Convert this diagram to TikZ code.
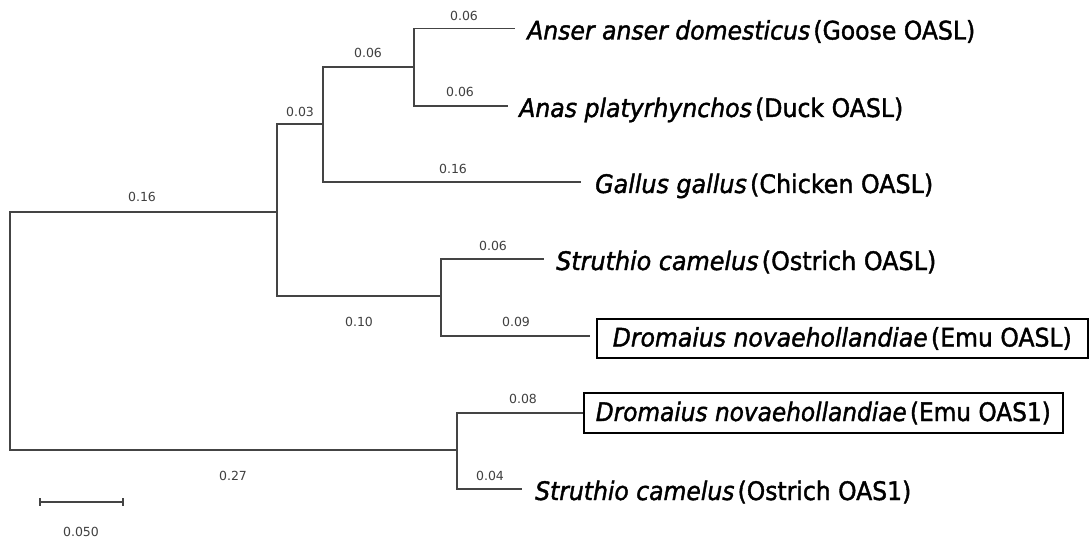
\documentclass[tikz,border=0pt]{standalone}
\usepackage{fontspec}
\usepackage{graphicx}
\setmainfont{Liberation Sans}
\newfontfamily\taxfont{DejaVu Sans Condensed}[FakeBold=1.5]
\newfontfamily\numfont{DejaVu Sans}
\definecolor{treegray}{HTML}{444444}
\definecolor{lblgray}{HTML}{404040}
\newcommand{\taxlabel}[3]{\resizebox{#1}{\height}{\textit{#2}\hspace{0.12em}(#3)}}
\tikzset{
  br/.style={draw=treegray, line width=1.4pt},
  bl/.style={font=\numfont\fontsize{12.5}{14}\selectfont, text=lblgray, inner sep=0pt},
  taxon/.style={anchor=base west, inner sep=0pt, font=\taxfont\fontsize{25.5}{28}\selectfont},
  boxed/.style={draw=black, line width=1.6pt, inner sep=0pt, anchor=west, align=center, font=\taxfont\fontsize{25.5}{28}\selectfont}
}
\begin{document}
\begin{tikzpicture}[x=1pt,y=-1pt]
\fill[white] (0,0) rectangle (1089,545);
\useasboundingbox (0,0) rectangle (1089,545);
% internal nodes
\coordinate (R) at (10,331);
\coordinate (A) at (277,212);
\coordinate (B) at (323,124);
\coordinate (C) at (414,67);
\coordinate (D) at (441,296);
\coordinate (E) at (457,450);
% leaf ends
\coordinate (l1) at (515,28.5);
\coordinate (l2) at (508,106);
\coordinate (l3) at (581,182);
\coordinate (l4) at (544,259);
\coordinate (l5) at (590,336);
\coordinate (l7) at (522,489);
% leaf labels
\node[taxon] (t1) at (527,39.5) {\taxlabel{448pt}{Anser anser domesticus}{Goose OASL}};
\node[taxon] (t2) at (519,117) {\taxlabel{384pt}{Anas platyrhynchos}{Duck OASL}};
\node[taxon] (t3) at (595,193) {\taxlabel{338pt}{Gallus gallus}{Chicken OASL}};
\node[taxon] (t4) at (556,270) {\taxlabel{380pt}{Struthio camelus}{Ostrich OASL}};
\node[boxed, minimum width=491pt, minimum height=39pt] (t5) at (596,338.5) {\taxlabel{459pt}{Dromaius novaehollandiae}{Emu OASL}};
\node[boxed, minimum width=479pt, minimum height=40pt] (t6) at (583,413) {\taxlabel{455pt}{Dromaius novaehollandiae}{Emu OAS1}};
\node[taxon] (t7) at (535,500) {\taxlabel{376pt}{Struthio camelus}{Ostrich OAS1}};
% branches
\draw[br] (R) |- (A);
\draw[br] (R) |- (E);
\draw[br] (A) |- (B);
\draw[br] (A) |- (D);
\draw[br] (B) |- (C);
\draw[br] (B) |- (l3);
\draw[br] (C) |- (l1);
\draw[br] (C) |- (l2);
\draw[br] (D) |- (l4);
\draw[br] (D) |- (l5);
\draw[br] (E) |- (t6.west);
\draw[br] (E) |- (l7);
% branch lengths
\node[bl] (b1) at (142,197) {0.16};
\node[bl] (b2) at (300,112) {0.03};
\node[bl] (b3) at (368,53) {0.06};
\node[bl] (b4) at (464,16) {0.06};
\node[bl] (b5) at (460,92) {0.06};
\node[bl] (b6) at (453,169) {0.16};
\node[bl] (b7) at (493,246) {0.06};
\node[bl] (b8) at (359,322) {0.10};
\node[bl] (b9) at (516,322) {0.09};
\node[bl] (b10) at (523,399) {0.08};
\node[bl] (b11) at (233,476) {0.27};
\node[bl] (b12) at (490,476) {0.04};
% scale bar
\coordinate (s1) at (40,502);
\coordinate (s2) at (123,502);
\draw[br] (s1) -- (s2);
\draw[br] ([yshift=4pt]s1) -- ([yshift=-4pt]s1);
\draw[br] ([yshift=4pt]s2) -- ([yshift=-4pt]s2);
\node[bl] (sb) at (81,532) {0.050};
\end{tikzpicture}
\end{document}
